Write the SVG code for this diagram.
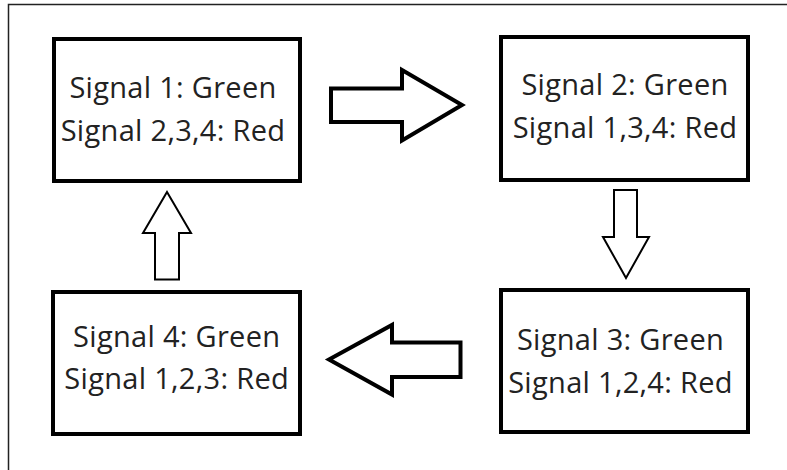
<svg xmlns="http://www.w3.org/2000/svg" width="787" height="470" viewBox="0 0 787 470">
  <style>
    .frame { stroke: #222; stroke-width: 1.5; fill: none; }
    .box { fill: #fff; stroke: #000; stroke-width: 4; }
    .label { font-family: "Open Sans", "Noto Sans", "Liberation Sans", sans-serif; font-size: 29px; letter-spacing: 0.3px; fill: #222; text-anchor: middle; }
    .arrow { fill: #fff; stroke: #000; stroke-linejoin: miter; }
    .arrow.thick { stroke-width: 4; }
    .arrow.thin { stroke-width: 2; }
  </style>
  <rect width="787" height="470" fill="#fff"/>
  <!-- frame (top and left edges) -->
  <path class="frame" d="M8.5,470 V4.5 H787"/>

  <g id="state1">
    <rect class="box" x="54" y="39" width="246" height="142"/>
    <text class="label" x="173" y="98">Signal 1: Green</text>
    <text class="label" x="173" y="140.5">Signal 2,3,4: Red</text>
  </g>
  <g id="state2">
    <rect class="box" x="501" y="37" width="247" height="143"/>
    <text class="label" x="625" y="95">Signal 2: Green</text>
    <text class="label" x="625" y="138">Signal 1,3,4: Red</text>
  </g>
  <g id="state3">
    <rect class="box" x="501" y="290" width="247" height="142"/>
    <text class="label" x="620.5" y="350">Signal 3: Green</text>
    <text class="label" x="620.5" y="393">Signal 1,2,4: Red</text>
  </g>
  <g id="state4">
    <rect class="box" x="53" y="292" width="247" height="142"/>
    <text class="label" x="176.7" y="346.7">Signal 4: Green</text>
    <text class="label" x="176.7" y="389">Signal 1,2,3: Red</text>
  </g>

  <g id="connectors">
    <path class="arrow thick" d="M331,88.5 H402 V70 L462,105 L402,140.5 V122 H331 Z"/>
    <path class="arrow thin" d="M614,190 H637 V237 H649 L626,278 L603,237 H614 Z"/>
    <path class="arrow thick" d="M329,359.5 L392,325 V342.5 H460.5 V377 H392 V394.5 Z"/>
    <path class="arrow thin" d="M167,192 L191,233 H179 V279.5 H155 V233 H143 Z"/>
  </g>
</svg>
